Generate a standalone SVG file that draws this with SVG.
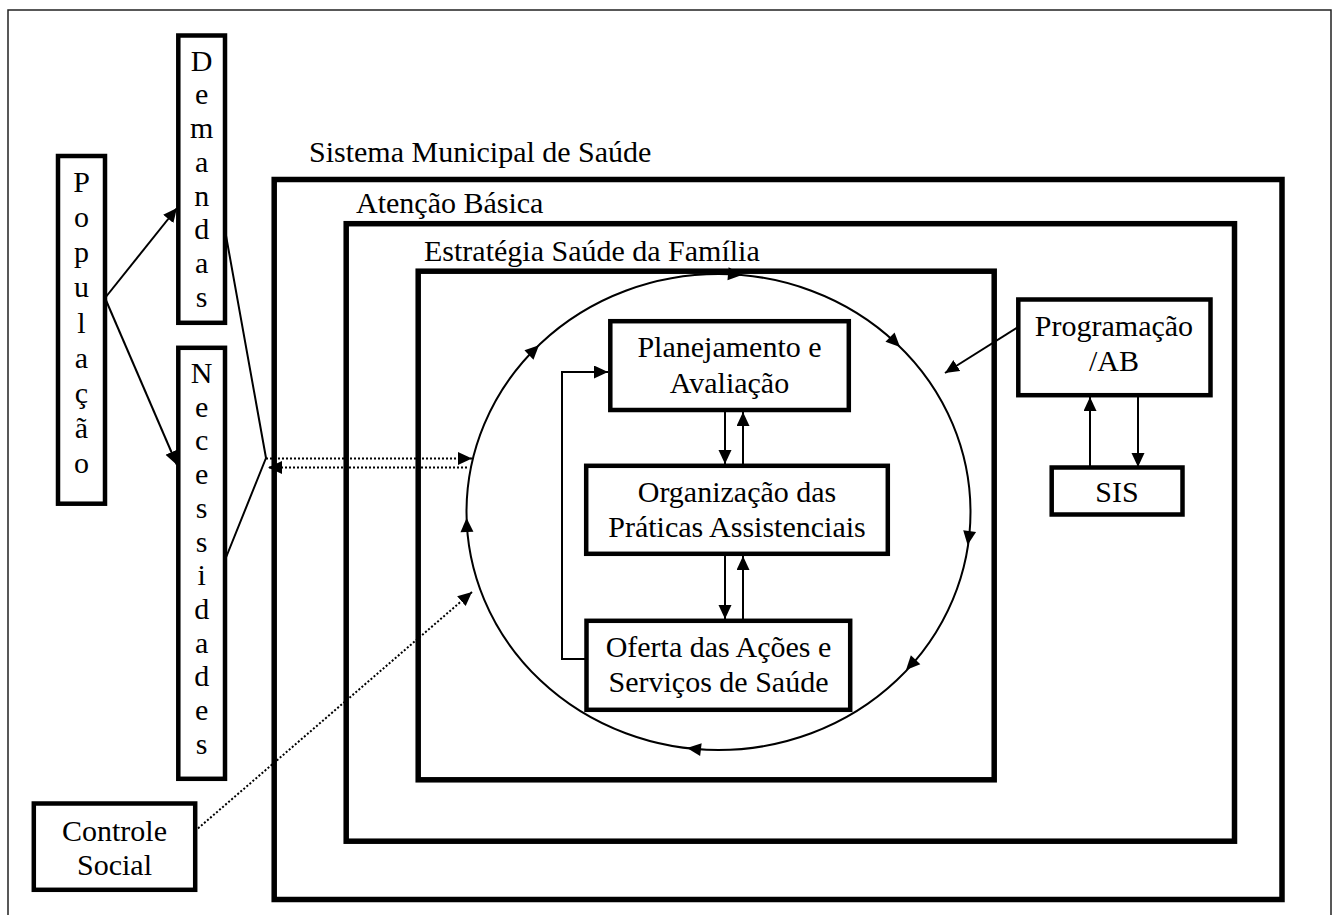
<svg xmlns="http://www.w3.org/2000/svg" width="1333" height="915" viewBox="0 0 1333 915">
<style>
.t{font-family:"Liberation Serif",Tinos,"Times New Roman",Times,serif;font-size:30px;fill:#000}
.c{text-anchor:middle}
.big{fill:none;stroke:#000;stroke-width:5.5}
.box{fill:#fff;stroke:#000;stroke-width:4.5}
.ln{fill:none;stroke:#000;stroke-width:2}
.dot{fill:none;stroke:#000;stroke-width:2;stroke-dasharray:2 2}
.ah{fill:#000}
</style>
<defs>
<marker id="a" markerUnits="userSpaceOnUse" markerWidth="15" markerHeight="14" refX="14" refY="6.5" orient="auto"><path d="M0,0 L14,6.5 L0,13 z" fill="#000"/></marker>
</defs>
<rect width="1333" height="915" fill="#fff"/>
<path d="M8,915 V10 H1331 V915" fill="none" stroke="#222" stroke-width="1.5"/>

<g id="sistema">
<rect class="big" x="274.2" y="179.5" width="1007.8" height="720"/>
<text class="t" font-family="Liberation Serif" x="309" y="162">Sistema Municipal de Saúde</text>
</g>
<g id="atencao">
<rect class="big" x="346.2" y="223.7" width="888.3" height="617.5"/>
<text class="t" x="356" y="213">Atenção Básica</text>
</g>
<g id="esf">
<rect class="big" x="418.2" y="271.2" width="576" height="508.6"/>
<text class="t" x="424" y="261">Estratégia Saúde da Família</text>
</g>

<g id="ciclo">
<ellipse class="ln" cx="718.5" cy="512" rx="252" ry="238"/>
<path class="ah" d="M0,0 L-14,-6.5 L-14,6.5 z" transform="translate(742,275) rotate(5.1)"/>
<path class="ah" d="M0,0 L-14,-6.5 L-14,6.5 z" transform="translate(900,347) rotate(44.6)"/>
<path class="ah" d="M0,0 L-14,-6.5 L-14,6.5 z" transform="translate(967.6,545) rotate(98.4)"/>
<path class="ah" d="M0,0 L-14,-6.5 L-14,6.5 z" transform="translate(906,670) rotate(133.2)"/>
<path class="ah" d="M0,0 L-14,-6.5 L-14,6.5 z" transform="translate(687,748) rotate(186.8)"/>
<path class="ah" d="M0,0 L-14,-6.5 L-14,6.5 z" transform="translate(466.6,518) rotate(-91.5)"/>
<path class="ah" d="M0,0 L-14,-6.5 L-14,6.5 z" transform="translate(539,345.3) rotate(-44)"/>
</g>

<g id="connectors">
<line class="ln" x1="105" y1="298" x2="177" y2="208" marker-end="url(#a)"/>
<line class="ln" x1="105" y1="298" x2="177" y2="465" marker-end="url(#a)"/>
<polyline class="ln" points="225,230 266,458 225,560"/>
<line class="dot" x1="266" y1="458.5" x2="472" y2="458.5" marker-end="url(#a)"/>
<line class="dot" x1="467" y1="467.5" x2="268" y2="467.5" marker-end="url(#a)"/>
<line class="dot" x1="195" y1="831" x2="472" y2="592" marker-end="url(#a)"/>
<line class="ln" x1="725" y1="412" x2="725" y2="464" marker-end="url(#a)"/>
<line class="ln" x1="743" y1="464" x2="743" y2="412" marker-end="url(#a)"/>
<line class="ln" x1="725" y1="556" x2="725" y2="619" marker-end="url(#a)"/>
<line class="ln" x1="743" y1="619" x2="743" y2="556" marker-end="url(#a)"/>
<path class="ln" d="M586,659 H562 V372 H608" marker-end="url(#a)"/>
<line class="ln" x1="1018" y1="327" x2="945" y2="373" marker-end="url(#a)"/>
<line class="ln" x1="1090" y1="467" x2="1090" y2="397" marker-end="url(#a)"/>
<line class="ln" x1="1138" y1="397" x2="1138" y2="467" marker-end="url(#a)"/>
</g>

<g id="populacao">
<rect class="box" x="58" y="156" width="47" height="347.7"/>
<text class="t c" x="81.5" y="191.7">P</text>
<text class="t c" x="81.5" y="226.9">o</text>
<text class="t c" x="81.5" y="262.1">p</text>
<text class="t c" x="81.5" y="297.3">u</text>
<text class="t c" x="81.5" y="332.5">l</text>
<text class="t c" x="81.5" y="367.7">a</text>
<text class="t c" x="81.5" y="402.9">ç</text>
<text class="t c" x="81.5" y="438.1">ã</text>
<text class="t c" x="81.5" y="473.3">o</text>
</g>

<g id="demandas">
<rect class="box" x="178.3" y="35.5" width="46.7" height="287.3"/>
<text class="t c" x="201.7" y="70.7">D</text>
<text class="t c" x="201.7" y="104.4">e</text>
<text class="t c" x="201.7" y="138.1">m</text>
<text class="t c" x="201.7" y="171.8">a</text>
<text class="t c" x="201.7" y="205.5">n</text>
<text class="t c" x="201.7" y="239.2">d</text>
<text class="t c" x="201.7" y="272.9">a</text>
<text class="t c" x="201.7" y="306.6">s</text>
</g>

<g id="necessidades">
<rect class="box" x="178.3" y="347.8" width="46.7" height="431"/>
<text class="t c" x="201.7" y="383">N</text>
<text class="t c" x="201.7" y="416.7">e</text>
<text class="t c" x="201.7" y="450.4">c</text>
<text class="t c" x="201.7" y="484.1">e</text>
<text class="t c" x="201.7" y="517.8">s</text>
<text class="t c" x="201.7" y="551.5">s</text>
<text class="t c" x="201.7" y="585.2">i</text>
<text class="t c" x="201.7" y="618.9">d</text>
<text class="t c" x="201.7" y="652.6">a</text>
<text class="t c" x="201.7" y="686.3">d</text>
<text class="t c" x="201.7" y="720">e</text>
<text class="t c" x="201.7" y="753.7">s</text>
</g>

<g id="controle">
<rect class="box" x="33.8" y="803.5" width="161.4" height="86.3"/>
<text class="t c" x="114.5" y="841">Controle</text>
<text class="t c" x="114.5" y="875">Social</text>
</g>

<g id="planejamento">
<rect class="box" x="610.3" y="321.2" width="238.5" height="88.8"/>
<text class="t c" x="729.5" y="357">Planejamento e</text>
<text class="t c" x="729.5" y="393">Avaliação</text>
</g>

<g id="organizacao">
<rect class="box" x="586.2" y="465.8" width="301.6" height="88"/>
<text class="t c" x="737" y="502">Organização das</text>
<text class="t c" x="737" y="537">Práticas Assistenciais</text>
</g>

<g id="oferta">
<rect class="box" x="586.5" y="620.8" width="263.7" height="89"/>
<text class="t c" x="718.5" y="657">Oferta das Ações e</text>
<text class="t c" x="718.5" y="692">Serviços de Saúde</text>
</g>

<g id="programacao">
<rect class="box" x="1018.3" y="299.5" width="192.2" height="95.7"/>
<text class="t c" x="1114" y="336">Programação</text>
<text class="t c" x="1114" y="371">/AB</text>
</g>

<g id="sis">
<rect class="box" x="1051.7" y="467.5" width="130.8" height="47"/>
<text class="t c" x="1117" y="502">SIS</text>
</g>
</svg>
